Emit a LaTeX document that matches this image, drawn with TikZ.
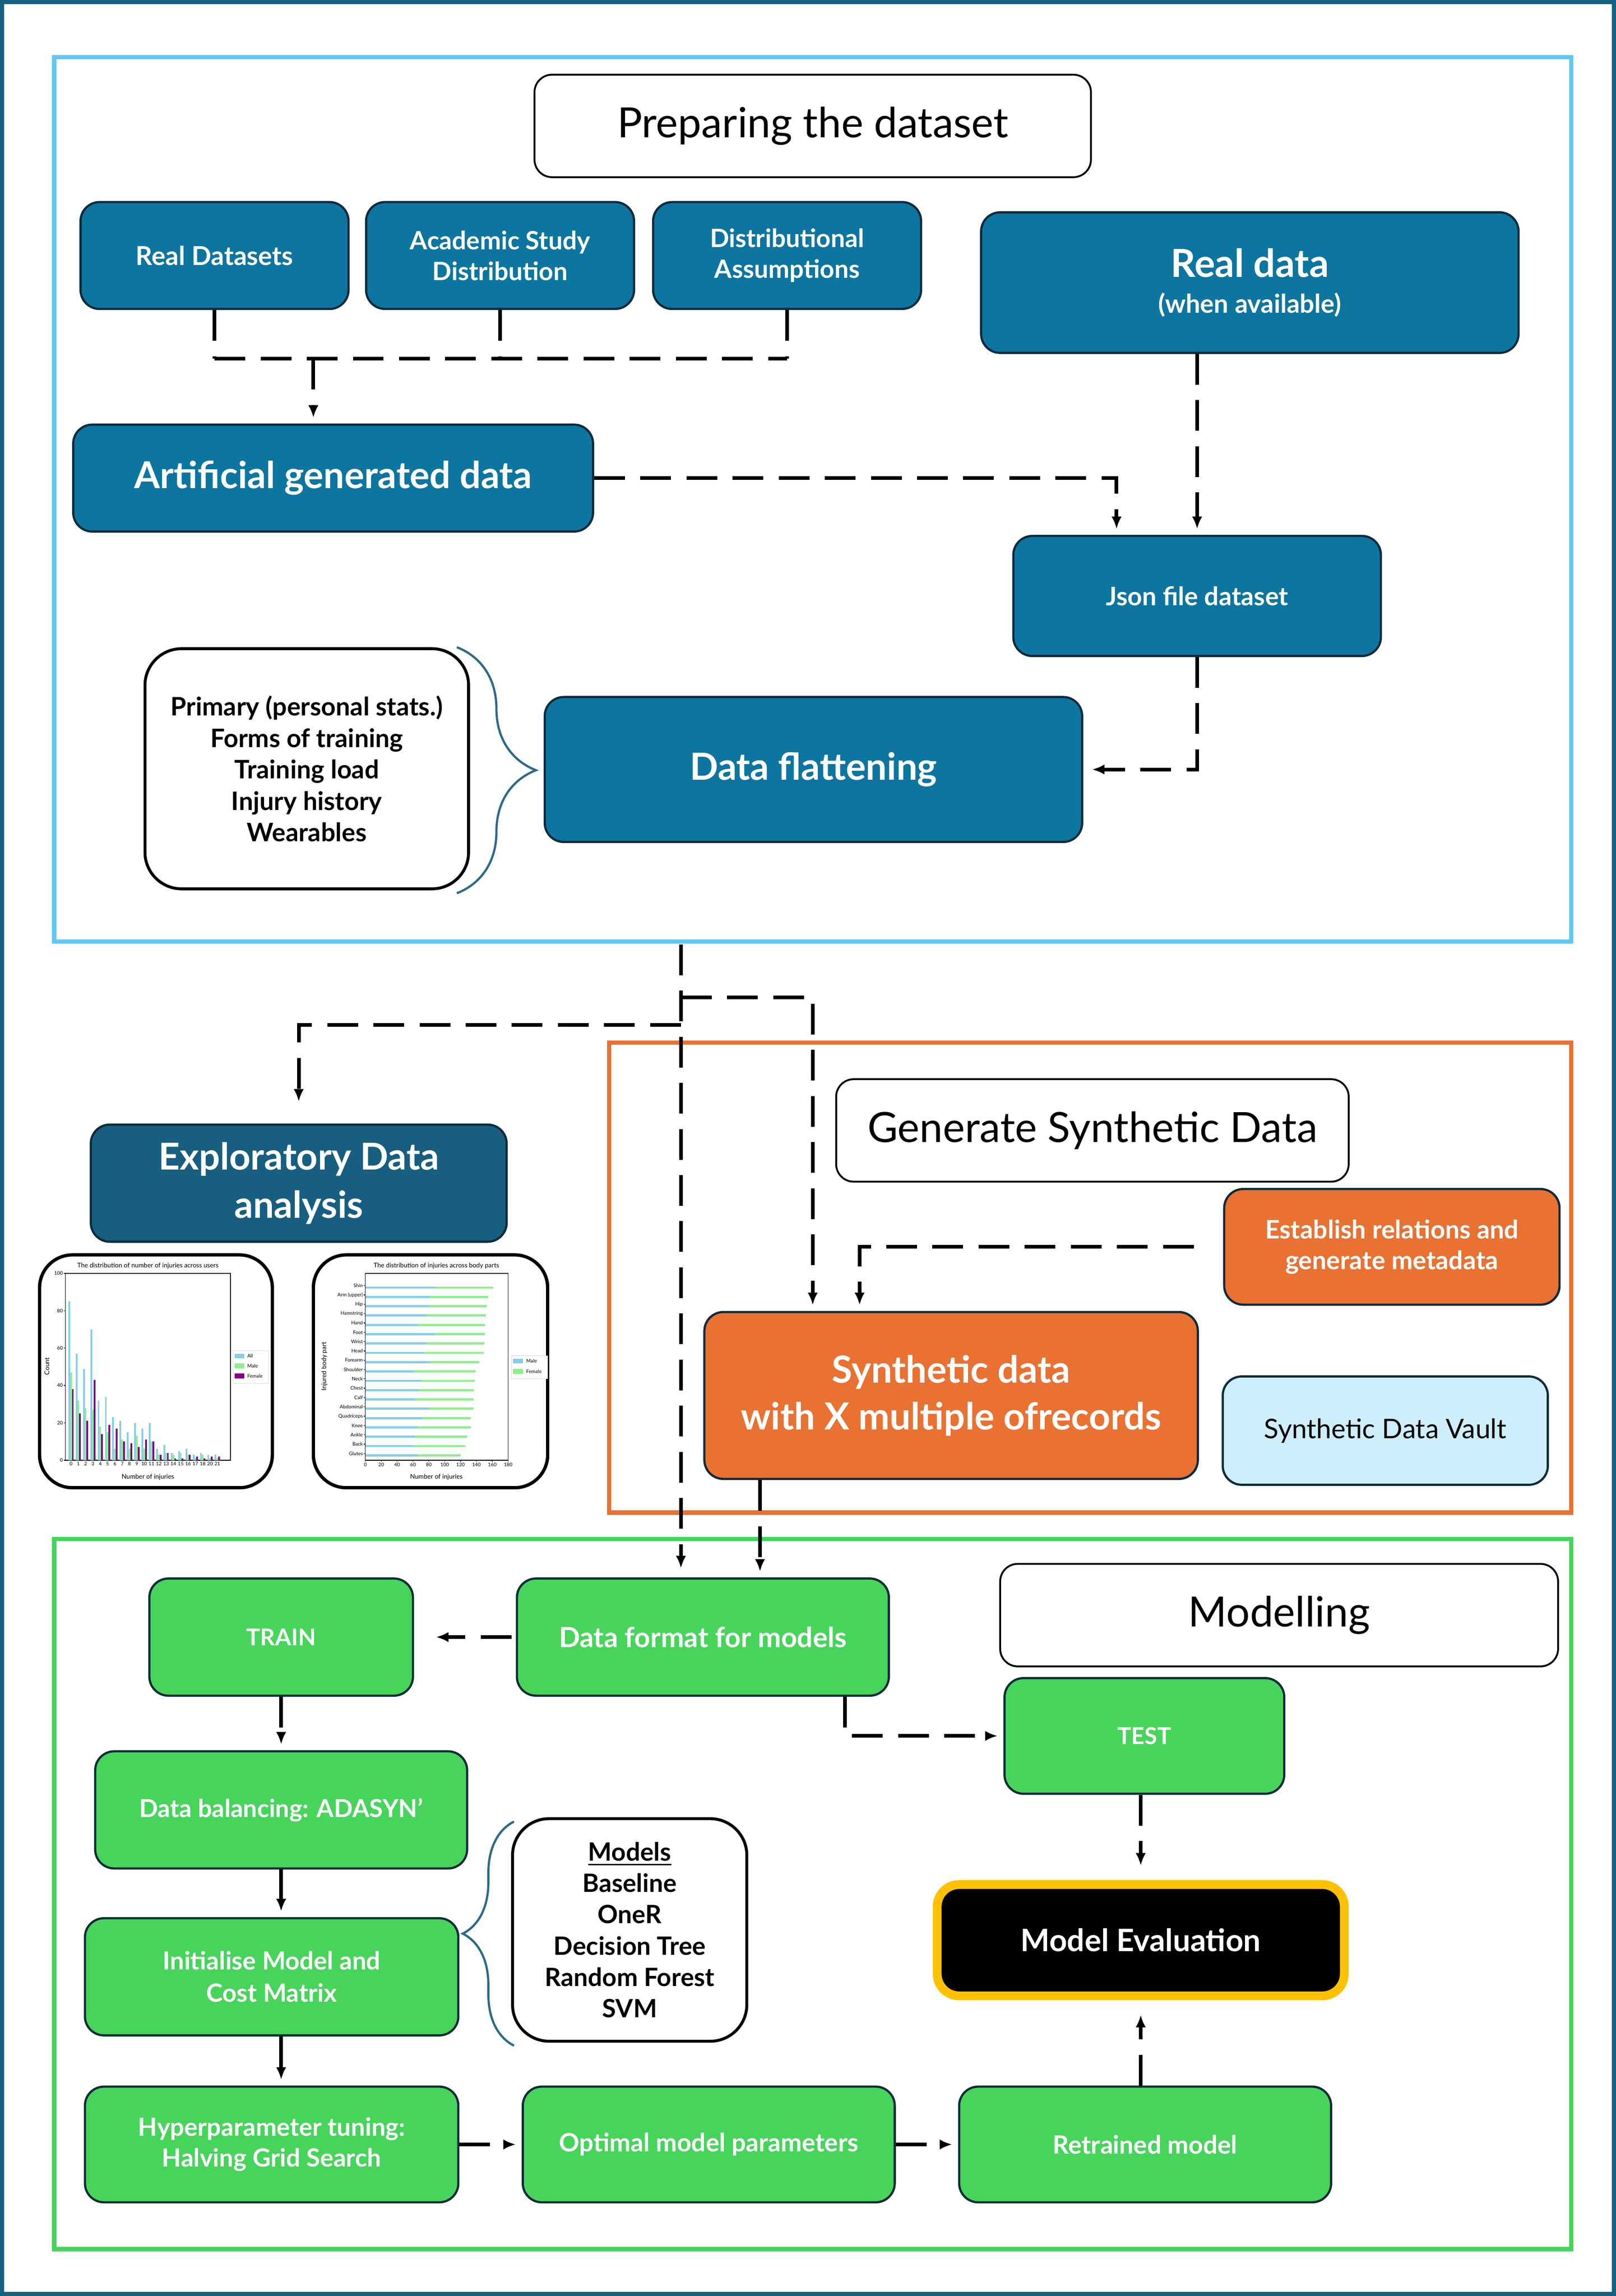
\documentclass[tikz,border=0pt]{standalone}
\usepackage{fontspec}
\setmainfont{Lato}
\usepackage{tikz}
\usetikzlibrary{calc}
\usetikzlibrary{positioning}
\usetikzlibrary{arrows.meta}
\usetikzlibrary{decorations.pathreplacing}

\definecolor{FrameBlue}{HTML}{17607F}
\definecolor{SkyLine}{HTML}{62C8F0}
\definecolor{DeepBlue}{HTML}{0C76A0}
\definecolor{EdaBlue}{HTML}{175E80}
\definecolor{BoxEdge}{HTML}{0D2B3B}
\definecolor{Tangerine}{HTML}{E97132}
\definecolor{LeafGreen}{HTML}{47D45A}
\definecolor{VaultBlue}{HTML}{CDEEFB}
\definecolor{Amber}{HTML}{FFC000}
\definecolor{BraceBlue}{HTML}{2A6A8C}
\definecolor{SkyBar}{HTML}{87CEEB}
\definecolor{MintBar}{HTML}{90EE90}
\definecolor{PlumBar}{HTML}{800080}

\begin{document}
\begin{tikzpicture}[x=0.2mm,y=-0.2mm,>={Latex[length=1.7mm,width=1.4mm]},
    sz/.style 2 args={minimum width=#1*0.2mm,minimum height=#2*0.2mm},
    txt/.style 2 args={font=\fontsize{#1}{#2}\selectfont\bfseries},
    box/.style={draw=BoxEdge,line width=0.3mm,rounded corners=2.6mm,align=center,inner sep=0pt,text=white},
    bluebox/.style={box,fill=DeepBlue},
    orangebox/.style={box,fill=Tangerine},
    greenbox/.style={box,fill=LeafGreen},
    titlebox/.style={draw=black,line width=0.25mm,rounded corners=2.4mm,fill=white,align=center,inner sep=0pt,font=\fontsize{16.2}{19}\selectfont},
    listbox/.style={draw=black,line width=0.4mm,rounded corners=5mm,fill=white,align=center,inner sep=0pt},
    chartbox/.style={draw=black,line width=0.45mm,rounded corners=4.5mm,fill=white,inner sep=0pt},
    section/.style={line width=0.6mm},
    flow/.style={line width=0.5mm,dash pattern=on 4.2mm off 2.1mm},
    flowarrow/.style={flow,->,shorten >=0.8mm},
    curly/.style={decorate,decoration={brace,amplitude=#1},draw=BraceBlue,line width=0.3mm},
    tick/.style={font=\fontsize{1.9}{2.2}\selectfont,inner sep=0.3pt},
    chartlab/.style={font=\fontsize{2.5}{3}\selectfont,inner sep=0pt}]

\useasboundingbox (0,0) rectangle (1103.5,1568);
\draw[FrameBlue,line width=0.55mm] (1.4,1.4) rectangle (1102.1,1566.6);

% sections
\draw[SkyLine,section] (37,39) rectangle (1073,643);
\draw[Tangerine,section] (416,712) rectangle (1073,1033);
\draw[LeafGreen,section] (37,1051) rectangle (1073,1536);

% preparing the dataset
\node[titlebox,sz={380}{70}] (preptitle) at (555,86) {Preparing the dataset};
\node[bluebox,sz={183}{73},txt={10.1}{12}] (realsets) at (146.5,174.5) {Real Datasets};
\node[bluebox,sz={183}{73},txt={9.8}{12}] (academic) at (341.5,174.5) {Academic Study\\Distribution};
\node[bluebox,sz={183}{73},txt={9.8}{12}] (distassume) at (537.5,174.5) {Distributional\\Assumptions};
\node[bluebox,sz={367}{96},txt={15}{16}] (realdata) at (853.5,193) {Real data\\[-2pt]{\fontsize{10}{12}\selectfont (when available)}};
\node[bluebox,sz={355}{73},txt={14.4}{16}] (artificial) at (227.5,326.5) {Artificial generated data};
\node[bluebox,sz={251}{82},txt={9.9}{12}] (jsonset) at (817.5,407) {Json file dataset};
\node[bluebox,sz={367}{99},txt={14.5}{16}] (flatten) at (555.5,525.5) {Data flattening};
\node[listbox,sz={221}{164},txt={9.9}{12.2}] (features) at (209.5,525) {Primary (personal stats.)\\Forms of training\\Training load\\Injury history\\Wearables};
\draw[curly=10.8mm] (312,442) -- (312,610);

\coordinate (feedbus) at (214,245);
\draw[flow] (realsets.south) -- (realsets.south |- feedbus);
\draw[flow] (academic.south) -- (academic.south |- feedbus);
\draw[flow] (distassume.south) -- (distassume.south |- feedbus);
\draw[flow] (realsets.south |- feedbus) -- (distassume.south |- feedbus);
\draw[flowarrow] (feedbus) -- (feedbus |- artificial.north);
\draw[flowarrow] (artificial.east) -| ($(jsonset.north)+(-55,0)$);
\draw[flowarrow] (realdata.south -| jsonset.north) -- (jsonset.north);
\draw[flowarrow,shorten >=1.2mm] (jsonset.south) |- (flatten.east);

% exploratory analysis
\node[box,fill=EdaBlue,sz={284}{80},txt={14.4}{18.8}] (eda) at (204,808) {Exploratory Data\\analysis};
\node[chartbox,sz={159}{159}] (chartusers) at (106.5,936.5) {};
\node[chartbox,sz={160}{159}] (chartparts) at (294,936.5) {};

% chart: injuries across users
\draw[line width=0.08mm] (44.6,869.6) rectangle (157.4,997.2);
\foreach \v in {0,20,...,100}
  \draw[line width=0.08mm] (44.6,{997.2-\v*1.276}) -- ++(-1,0) node[tick,left] {\v};
\foreach \i/\lab/\a/\m/\f in {0/0/85/47/38,1/1/57/32/25,2/2/49/28/21,3/3/70/27/43,4/4/32/18/14,5/5/34/15/19,6/6/23/6/17,7/7/21/11/10,8/8/15/6/9,9/9/20/13/7,10/10/17/6/11,11/11/20/10/10,12/12/6/3/3,13/13/8/4/4,14/14/4/3/1,15/15/5/4/1,16/16/6/3/3,17/17/3/1/2,18/18/4/3/1,19/20/3/1/2,20/21/3/1/2}{
  \pgfmathsetmacro\cx{44.6+(\i+0.78)*4.995}
  \fill[SkyBar] (\cx-1.8,997.2) rectangle (\cx-0.6,{997.2-\a*1.276});
  \fill[MintBar] (\cx-0.6,997.2) rectangle (\cx+0.6,{997.2-\m*1.276});
  \fill[PlumBar] (\cx+0.6,997.2) rectangle (\cx+1.8,{997.2-\f*1.276});
  \node[tick,below] at (\cx,997.6) {\lab};
}
\node[chartlab] at (101,864.6) {The distribution of number of injuries across users};
\node[chartlab,rotate=90] at (32,933) {Count};
\node[chartlab] at (101,1008.6) {Number of injuries};
\draw[gray!30,fill=white,line width=0.05mm] (159.2,922.3) rectangle (183.7,944.7);
\foreach \c/\t [count=\k from 0] in {SkyBar/All,MintBar/Male,PlumBar/Female}{
  \fill[\c] (160.4,{924.4+\k*6.8}) rectangle (166.8,{927.7+\k*6.8});
  \node[tick,right] at (168,{926+\k*6.8}) {\t};
}

% chart: injuries across body parts
\draw[line width=0.08mm] (249.5,869.6) rectangle (347,997.2);
\foreach \v in {0,20,...,180}
  \draw[line width=0.08mm] ({249.5+\v*0.5417},997.2) -- ++(0,1) node[tick,below] {\v};
\foreach \part/\m/\t [count=\k from 0] in {Shin/89/161,Arm (upper)/80/155,Hip/80/153,Hamstring/77/152,Hand/66/151,Foot/87/151,Wrist/77/150,Head/74/149,Forearm/82/144,Shoulder/61/139,Neck/71/138,Chest/68/137,Calf/63/136,Abdominal/80/136,Quadriceps/72/133,Knee/66/133,Ankle/62/128,Back/60/126,Glutes/66/120}{
  \pgfmathsetmacro\cy{879.3+\k*6.367}
  \fill[SkyBar] (249.5,\cy-0.75) rectangle ({249.5+\m*0.5417},\cy+0.75);
  \fill[MintBar] ({249.5+\m*0.5417},\cy-0.75) rectangle ({249.5+\t*0.5417},\cy+0.75);
  \draw[line width=0.08mm] (249.5,\cy-1.3) -- ++(-1,0) node[tick,left] {\part};
}
\node[chartlab] at (298,864.6) {The distribution of injuries across body parts};
\node[chartlab,rotate=90] at (221.5,933) {Injured body part};
\node[chartlab] at (298,1008.6) {Number of injuries};
\draw[gray!30,fill=white,line width=0.05mm] (349.3,925.8) rectangle (373.8,941.5);
\foreach \c/\t [count=\k from 0] in {SkyBar/Male,MintBar/Female}{
  \fill[\c] (350.3,{927.8+\k*7.1}) rectangle (357.1,{931.1+\k*7.1});
  \node[tick,right] at (358.5,{929.4+\k*7.1}) {\t};
}

% generate synthetic data
\node[titlebox,sz={350}{70}] (gentitle) at (746,772) {Generate Synthetic Data};
\node[orangebox,sz={229}{79},txt={9.9}{12}] (establish) at (950.5,851.5) {Establish relations and\\generate metadata};
\node[orangebox,sz={337}{114},txt={14.5}{18.2}] (synthdata) at (649.5,953) {Synthetic data\\with X multiple ofrecords};
\node[box,fill=VaultBlue,text=black,sz={222}{74},font=\fontsize{10.5}{12}\selectfont] (vault) at (946,977) {Synthetic Data Vault};

\coordinate (split) at (465,645);
\coordinate (synthfork) at (465,681);
\coordinate (edafork) at (465,700);
\draw[flowarrow] (split) -- (split |- 0,1075);
\draw[flowarrow] (synthfork) -| ($(synthdata.north)+(-94.5,0)$);
\draw[flowarrow,shorten >=3mm] (edafork) -| (eda.north);
\draw[flowarrow,shorten <=4mm] (establish.west) -| ($(synthdata.north)+(-62.5,0)$);

% modelling
\node[titlebox,sz={381}{70}] (modtitle) at (873.5,1103) {Modelling};
\node[greenbox,sz={180}{80},txt={9}{12}] (train) at (192,1118) {TRAIN};
\node[greenbox,sz={254}{80},txt={10.8}{13}] (dataformat) at (480,1118) {Data format for models};
\node[greenbox,sz={191}{79},txt={9}{12}] (testset) at (781.5,1185.5) {TEST};
\node[greenbox,sz={254}{80},txt={9.6}{12}] (balancing) at (192,1236) {Data balancing: ADASYN’};
\node[greenbox,sz={255}{80},txt={9.7}{12.5}] (initmodel) at (185.5,1350) {Initialise Model and\\Cost Matrix};
\node[listbox,sz={160}{152},txt={9.8}{12.2}] (models) at (430,1318) {\underline{Models}\\Baseline\\OneR\\Decision Tree\\Random Forest\\SVM};
\draw[curly=7mm] (351,1397) -- (351,1244);
\node[greenbox,sz={255}{79},txt={9.7}{12}] (hypertune) at (185.5,1464.5) {Hyperparameter tuning:\\Halving Grid Search};
\node[greenbox,sz={254}{79},txt={9.8}{12}] (optimal) at (484,1464.5) {Optimal model parameters};
\node[greenbox,sz={254}{79},txt={9.8}{12}] (retrained) at (782,1464.5) {Retrained model};
\node[draw=Amber,line width=1.2mm,fill=black,rounded corners=3mm,sz={278}{76},txt={12}{14},text=white] (evaluation) at (779,1325) {Model Evaluation};

\draw[flowarrow] ($(synthdata.south)+(-130.5,0)$) -- ($(dataformat.north)+(39,0)$);
\draw[flowarrow,shorten >=3mm,shorten <=0.6mm] (dataformat.west) -- (train.east);
\draw[flowarrow] ($(dataformat.south)+(97,0)$) |- (testset.west);
\draw[flowarrow] (train.south) -- (train.south |- balancing.north);
\draw[flowarrow] (balancing.south) -- (balancing.south |- initmodel.north);
\draw[flowarrow] (initmodel.south -| balancing.south) -- (balancing.south |- hypertune.north);
\draw[flowarrow] (hypertune.east) -- (optimal.west);
\draw[flowarrow] (optimal.east) -- (retrained.west);
\draw[flowarrow,shorten >=2mm] (testset.south -| evaluation.north) -- (evaluation.north);
\draw[flowarrow,shorten >=2mm] (retrained.north -| evaluation.south) -- (evaluation.south);
\end{tikzpicture}
\end{document}
